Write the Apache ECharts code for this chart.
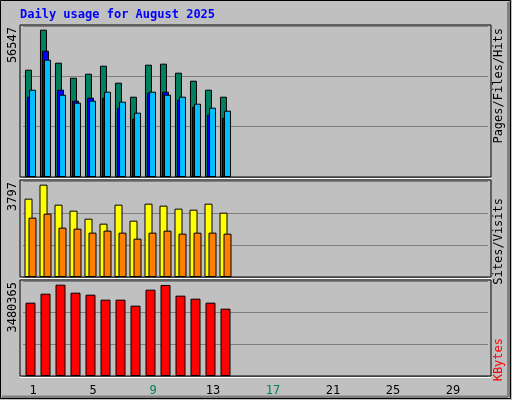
<!DOCTYPE html>
<html>
<head>
<meta charset="utf-8">
<script src="https://cdn.jsdelivr.net/npm/echarts@6/dist/echarts.min.js"></script>
<style>html,body{margin:0;padding:0;background:#c0c0c0}#c{width:512px;height:400px}</style>
</head>
<body>
<div id="c"></div>
<script>
var days = [];
for (var d = 1; d <= 31; d++) days.push(String(d));
var weekends = ['2', '3', '9', '10', '16', '17', '23', '24', '30', '31'];

var hits = [41190, 56547, 43870, 38110, 39650, 42720, 36200, 30820, 43100, 43490, 40030, 36960, 33510, 30820];
var files = [30820, 48470, 33510, 29290, 30440, 30440, 26600, 22380, 32360, 32740, 29670, 26990, 23920, 22770];
var pages = [33510, 45020, 31590, 28520, 29290, 32740, 28910, 24690, 32740, 31590, 30820, 28140, 26600, 25450];
var visits = [3222, 3797, 2975, 2728, 2399, 2194, 2975, 2317, 3016, 2934, 2811, 2769, 3016, 2646];
var sites = [2440, 2605, 2029, 1988, 1823, 1906, 1823, 1577, 1823, 1906, 1782, 1823, 1823, 1782];
var kbytes = [2794000, 3137000, 3480365, 3175500, 3099000, 2908700, 2908700, 2680100, 3289800, 3470000, 3061200, 2946900, 2794400, 2565800];

var maxHits = 57954, maxVisits = 3948, maxK = 3620088;
var font = 'DejaVu Sans Mono';

var chart = echarts.init(document.getElementById('c'));

function xAxis(i, showLabels) {
    return {
        type: 'category', gridIndex: i, data: days,
        axisLine: { show: false }, axisTick: { show: false },
        axisLabel: {
            show: showLabels, margin: 9, padding: [0, 0, 0, 5], fontFamily: font, fontSize: 12,
            formatter: function (v) { return weekends.indexOf(v) >= 0 ? '{w|' + v + '}' : '{n|' + v + '}'; },
            rich: { w: { color: '#008060', fontFamily: font, fontSize: 12 }, n: { color: '#000', fontFamily: font, fontSize: 12 } }
        }
    };
}
function yAxis(i, max) {
    return {
        type: 'value', gridIndex: i, min: 0, max: max, interval: max / 3,
        axisLabel: { show: false }, axisLine: { show: false }, axisTick: { show: false },
        splitLine: { lineStyle: { color: '#808080', width: 1 } }
    };
}
function bar(name, data, color, i, w, gap) {
    return {
        name: name, type: 'bar', data: data, xAxisIndex: i, yAxisIndex: i,
        barWidth: w, barGap: gap, animation: false,
        itemStyle: { color: color, borderColor: '#000', borderWidth: 1 }
    };
}
function vtext(x, y, text, color, align, rich) {
    return {
        type: 'text', x: x, y: y, rotation: Math.PI / 2,
        style: { text: text, fill: color, font: '12px ' + font, align: align, verticalAlign: 'middle', rich: rich }
    };
}
function panel(top, h) {
    return [
        { type: 'rect', shape: { x: 20, y: top, width: 471, height: h }, style: { fill: 'none', stroke: '#000', lineWidth: 1 }, z: 10 },
        { type: 'line', shape: { x1: 20, y1: top + h + 1.5, x2: 491, y2: top + h + 1.5 }, style: { stroke: '#fff', lineWidth: 1 }, z: 10 }
    ];
}

var rf = { fontFamily: font, fontSize: 12 };
var option = {
    backgroundColor: '#c0c0c0',
    grid: [
        { left: 23, width: 465, top: 26, height: 151 },
        { left: 23, width: 465, top: 181, height: 96 },
        { left: 23, width: 465, top: 281, height: 95 }
    ],
    xAxis: [xAxis(0, false), xAxis(1, false), xAxis(2, true)],
    yAxis: [yAxis(0, maxHits), yAxis(1, maxVisits), yAxis(2, maxK)],
    series: [
        bar('Hits', hits, '#008060', 0, 7, '-71%'),
        bar('Files', files, '#0000ff', 0, 7, '-71%'),
        bar('Pages', pages, '#00c0ff', 0, 7, '-71%'),
        bar('Visits', visits, '#ffff00', 1, 8, '-50%'),
        bar('Sites', sites, '#ff8000', 1, 8, '-50%'),
        bar('KBytes', kbytes, '#ff0000', 2, 10, '0%')
    ],
    graphic: [
        { type: 'rect', shape: { x: 0.5, y: 0.5, width: 510, height: 398 }, style: { fill: 'none', stroke: '#000', lineWidth: 1 }, z: 20 },
        { type: 'line', shape: { x1: 508.5, y1: 2, x2: 508.5, y2: 397 }, style: { stroke: '#808080', lineWidth: 3 }, z: 19 },
        { type: 'line', shape: { x1: 2, y1: 397, x2: 508, y2: 397 }, style: { stroke: '#808080', lineWidth: 3 }, z: 19 },
        { type: 'text', x: 20, y: 15, style: { text: 'Daily usage for August 2025', fill: '#0000ff', font: 'bold 12px ' + font, verticalAlign: 'middle' } },
        vtext(13, 27, '56547', '#000', 'right'),
        vtext(13, 182, '3797', '#000', 'right'),
        vtext(13, 282, '3480365', '#000', 'right'),
        vtext(499, 28, '{p|Pages}{s|/}{f|Files}{s|/}{h|Hits}', '#000', 'right',
            { p: Object.assign({ color: '#00c0ff' }, rf), s: Object.assign({ color: '#000' }, rf), f: Object.assign({ color: '#0000ff' }, rf), h: Object.assign({ color: '#008060' }, rf) }),
        vtext(499, 198, '{t|Sites}{s|/}{v|Visits}', '#000', 'right',
            { t: Object.assign({ color: '#ff8000' }, rf), s: Object.assign({ color: '#000' }, rf), v: Object.assign({ color: '#ffff00' }, rf) }),
        vtext(499, 338, 'KBytes', '#ff0000', 'right')
    ].concat(panel(25, 152), panel(180, 97), panel(280, 96))
};
chart.setOption(option);
</script>
</body>
</html>
